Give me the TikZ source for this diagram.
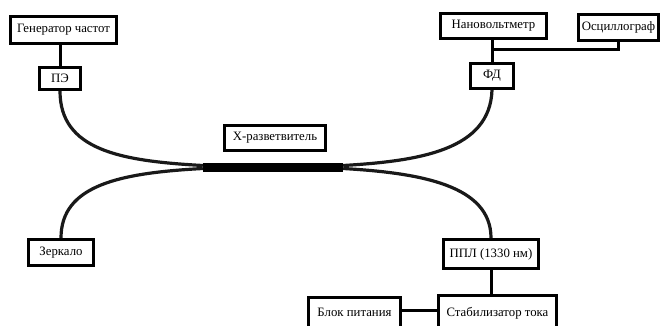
\documentclass[tikz,border=0pt]{standalone}
\usepackage{fontspec}
\setmainfont{Liberation Serif}
\begin{document}
\begin{tikzpicture}[x=1pt,y=-1pt,
  box/.style={draw=black, line width=3pt, fill=white, inner sep=0pt, font=\fontsize{12.8}{14}\selectfont},
  wire/.style={line width=3pt, black},
  fiber/.style={line width=3.2pt, black!90}]
\useasboundingbox (0,0) rectangle (661,326);
% nodes
\node[box, minimum width=106pt, minimum height=27pt] (gen) at (63.5,30) {Генератор частот};
\node[box, minimum width=41pt, minimum height=22pt] (pe) at (60,78.5) {ПЭ};
\node[box, minimum width=106pt, minimum height=25pt] (nano) at (493.5,26) {Нановольтметр};
\node[box, minimum width=80pt, minimum height=26pt] (osc) at (618.5,27.5) {Осциллограф};
\node[box, minimum width=43pt, minimum height=25pt] (fd) at (492,76) {ФД};
\node[box, minimum width=101pt, minimum height=25pt] (xlab) at (275,138) {Х-разветвитель};
\node[fill=black, draw=none, inner sep=0pt, minimum width=140pt, minimum height=9pt] (bar) at (273,167) {};
\node[box, minimum width=65pt, minimum height=26pt] (zer) at (61,252.5) {Зеркало};
\node[box, minimum width=95pt, minimum height=29pt] (ppl) at (491,254) {ППЛ (1330 нм)};
\node[box, minimum width=118pt, minimum height=36pt] (stab) at (497.5,313) {\raisebox{3pt}{Стабилизатор тока}};
\node[box, minimum width=92pt, minimum height=36pt] (blok) at (354.5,315) {\raisebox{5pt}{Блок питания}};
% connectors
\draw[wire] (pe.north) -- (pe.north |- gen.south);
\draw[wire] (fd.north) -- (fd.north |- nano.south);
\coordinate (j) at (fd.north |- 0,50);
\draw[wire] (j) -| (osc.south);
\draw[wire] (ppl.south) -- (ppl.south |- stab.north);
\draw[wire] ([yshift=5pt]blok.east) -- ([yshift=5pt]blok.east -| stab.west);
% fibers
\draw[fiber] (pe.south) .. controls (60,150) and (120,161) .. ([yshift=1.5pt]bar.west);
\draw[fiber] ([yshift=-1.5pt]bar.west) .. controls (120,173) and (61,185) .. (zer.north);
\draw[fiber] (fd.south) .. controls (490,150) and (420,161) .. ([yshift=1.5pt]bar.east);
\draw[fiber] ([yshift=-1.5pt]bar.east) .. controls (420,173) and (491,185) .. (ppl.north);
\end{tikzpicture}
\end{document}
